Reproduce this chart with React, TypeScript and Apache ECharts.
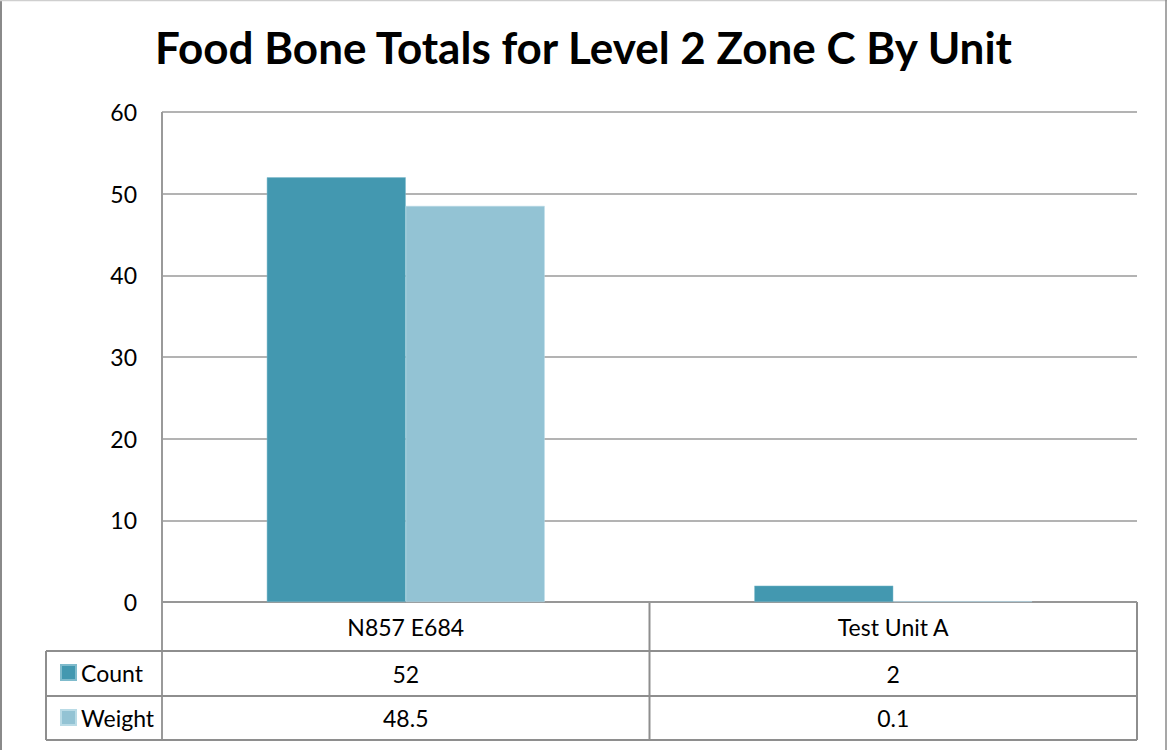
import React, { useEffect, useRef } from "react";
import * as echarts from "echarts";

const TITLE = "Food Bone Totals for Level 2 Zone C By Unit";
const categories = ["N857 E684", "Test Unit A"];
const countValues = [52, 2];
const weightValues = [48.5, 0.1];
const countLabels = ["52", "2"];
const weightLabels = ["48.5", "0.1"];
const seriesNames = ["Count", "Weight"];

const W = 1167;
const H = 750;
const GL = 162;
const GR = 1137;
const GT = 112;
const AXY = 602;
const ROW1 = 651;
const ROW2 = 696;
const ROW3 = 740;
const LEGL = 46;

const FONT = "Lato";
const FS = 23;
const LINE = "#8e8e8e";

export default function App() {
  const ref = useRef<HTMLDivElement>(null);
  useEffect(() => {
    document.body.style.margin = "0";
    const chart = echarts.init(ref.current!, null, { renderer: "svg" });
    const mid = (GL + GR) / 2;
    const ln = (x1: number, y1: number, x2: number, y2: number, color = LINE, w = 2) => ({
      type: "line",
      shape: { x1, y1, x2, y2 },
      style: { stroke: color, lineWidth: w },
      silent: true,
    });
    chart.setOption({
      animation: false,
      backgroundColor: "#fff",
      textStyle: { fontFamily: FONT },
      title: {
        text: TITLE,
        left: "center",
        top: 20,
        textStyle: { fontFamily: FONT, fontWeight: "bold", fontSize: 44, color: "#000" },
      },
      legend: {
        orient: "vertical",
        left: 55,
        top: 656,
        itemWidth: 15,
        itemHeight: 15,
        itemGap: 22,
        icon: "rect",
        data: seriesNames,
        textStyle: { fontFamily: FONT, fontSize: FS, color: "#000" },
      },
      grid: { left: GL, right: W - GR, top: GT, bottom: H - AXY, containLabel: false },
      xAxis: {
        type: "category",
        data: categories,
        axisLine: { show: false },
        axisTick: { show: false },
        axisLabel: {
          margin: 0,
          interval: 0,
          formatter: (v: string, i: number) =>
            `{c|${v}}\n{v|${countLabels[i]}}\n{w|${weightLabels[i]}}`,
          rich: {
            c: { fontFamily: FONT, fontSize: FS, color: "#000", lineHeight: 49, height: 49 },
            v: { fontFamily: FONT, fontSize: FS, color: "#000", lineHeight: 45, height: 45 },
            w: { fontFamily: FONT, fontSize: FS, color: "#000", lineHeight: 44, height: 44 },
          },
        },
      },
      yAxis: {
        type: "value",
        min: 0,
        max: 60,
        interval: 10,
        axisLine: { show: false },
        axisTick: { show: false },
        axisLabel: { margin: 25, fontFamily: FONT, fontSize: FS, color: "#000" },
        splitLine: { lineStyle: { color: "#9a9a9a", width: 1.5 } },
      },
      series: [
        {
          name: seriesNames[0],
          type: "bar",
          data: countValues,
          barGap: "0%",
          barCategoryGap: "43%",
          itemStyle: { color: "#4398b0", borderColor: "#7fbbcc", borderWidth: 0.5 },
        },
        {
          name: seriesNames[1],
          type: "bar",
          data: weightValues,
          itemStyle: { color: "#93c3d4", borderColor: "#b9dbe6", borderWidth: 0.5 },
        },
      ],
      graphic: [
        ln(1, 0, 1, H, "#8a8a8a", 2),
        ln(0, 0.5, W, 0.5, "#cfcfcf", 1.5),
        ln(W - 1, 0, W - 1, H, "#8a8a8a", 1.5),
        ln(GL, GT, GL, ROW3, "#9a9a9a", 2),
        ln(GL, AXY, GR, AXY),
        ln(LEGL, ROW1, GR, ROW1),
        ln(LEGL, ROW2, GR, ROW2),
        ln(LEGL, ROW3, GR, ROW3),
        ln(LEGL, ROW1, LEGL, ROW3),
        ln(mid, AXY, mid, ROW3),
        ln(GR, AXY, GR, ROW3),
      ],
    });
    return () => chart.dispose();
  }, []);
  return (
    <div
      ref={ref}
      style={{ position: "fixed", left: 0, top: 0, width: W, height: H }}
    />
  );
}
